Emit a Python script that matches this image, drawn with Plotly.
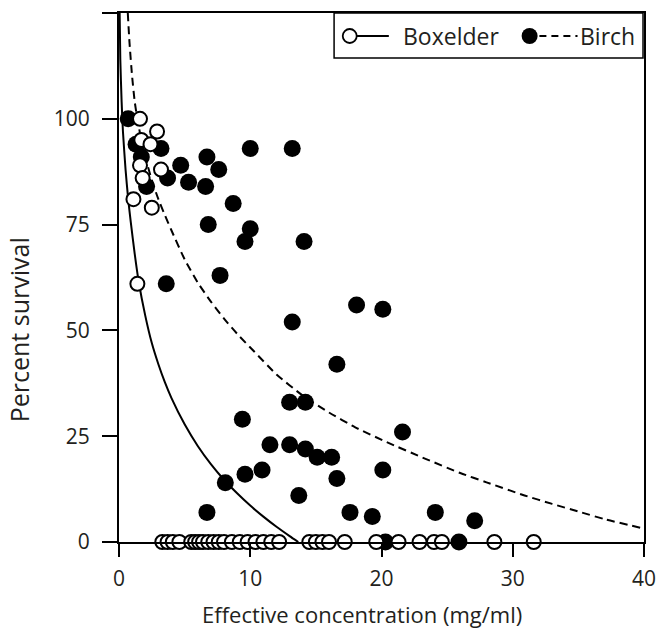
import plotly.graph_objects as go

# Boxelder (open circles)
boxelder_x = [1.6, 2.9, 1.7, 2.4, 1.6, 3.2, 1.8, 1.1, 2.5, 1.4,
              3.3, 3.7, 4.1, 4.6, 5.5, 5.8, 6.1, 6.4, 6.8, 7.2, 7.6, 8.0, 8.6, 9.2, 9.8,
              10.4, 11.0, 11.6, 12.2, 14.5, 15.0, 15.5, 16.0, 17.2, 19.6, 21.3, 22.9,
              24.0, 24.6, 28.6, 31.6]
boxelder_y = [100, 97, 95, 94, 89, 88, 86, 81, 79, 61,
              0, 0, 0, 0, 0, 0, 0, 0, 0, 0, 0, 0, 0, 0, 0,
              0, 0, 0, 0, 0, 0, 0, 0, 0, 0, 0, 0,
              0, 0, 0, 0]

# Birch (filled circles)
birch_x = [0.7, 1.3, 1.7, 2.1, 3.2, 4.7, 6.7, 10.0, 13.2, 7.6, 3.7, 5.3, 6.6, 8.7,
           6.8, 10.0, 9.6, 14.1, 7.7, 3.6, 18.1, 20.1, 13.2, 16.6, 13.0, 14.2,
           9.4, 21.6, 11.5, 13.0, 14.2, 15.1, 16.2, 20.1, 10.9, 9.6, 16.6, 8.1,
           13.7, 17.6, 19.3, 6.7, 24.1, 27.1, 20.3, 25.9]
birch_y = [100, 94, 91, 84, 93, 89, 91, 93, 93, 88, 86, 85, 84, 80,
           75, 74, 71, 71, 63, 61, 56, 55, 52, 42, 33, 33,
           29, 26, 23, 23, 22, 20, 20, 17, 17, 16, 15, 14,
           11, 7, 6, 7, 7, 5, 0, 0]

# Fitted curves
boxelder_fit_x = [0.05, 0.1, 0.2, 0.3, 0.5, 0.7, 0.9, 1.2, 1.5, 2.0, 2.5, 3.0, 3.5, 4.0,
                  5.0, 6.0, 7.0, 8.0, 9.0, 10.0, 11.0, 12.0, 13.0, 13.66]
boxelder_fit_y = [125, 114, 104, 97, 88, 81, 75.5, 68, 61.5, 53.5, 47, 42, 37.7, 34,
                  27.8, 22.7, 18.4, 14.7, 11.5, 8.6, 6.0, 3.6, 1.4, 0]
birch_fit_x = [0.67, 0.8, 1.0, 1.2, 1.4, 1.7, 2.0, 2.5, 3.0, 3.43, 4.0, 5.0, 6.0, 7.0, 8.0,
               9.0, 10.3, 12.0, 14.0, 16.0, 18.0, 20.4, 23.4, 26.0, 28.0, 30.9, 33.0, 35.0,
               37.0, 39.8]
birch_fit_y = [125, 118, 110, 104, 100, 95, 91, 85.5, 81, 77.7, 73.6, 66.8, 61.3, 56.8, 52.8,
               49.2, 45, 39.6, 34.6, 30.6, 27.1, 23.6, 19.6, 16.3, 14.1, 11, 9, 7.2,
               5.4, 3.3]

x_ticks = [0, 10, 20, 30, 40]
y_ticks = [0, 25, 50, 75, 100, 125]
y_ticktext = ["0", "25", "50", "75", "100", ""]
series_names = ["Boxelder", "Birch"]

FONT = "Open Sans"
INK = "#231f20"

# plot area in pixels (for placing paper-referenced decorations)
L, R, T, B = 119, 656, 13, 542
def px(x): return (x - L) / (R - L)
def py(y): return (B - y) / (B - T)

fig = go.Figure()

fig.add_trace(go.Scatter(x=boxelder_fit_x, y=boxelder_fit_y, mode="lines",
                         line=dict(color="black", width=2, shape="spline", smoothing=0.6),
                         showlegend=False, hoverinfo="skip"))
fig.add_trace(go.Scatter(x=birch_fit_x, y=birch_fit_y, mode="lines",
                         line=dict(color="black", width=2, dash="8px,5px",
                                   shape="spline", smoothing=0.6),
                         showlegend=False, hoverinfo="skip"))
fig.add_trace(go.Scatter(x=birch_x, y=birch_y, mode="markers", cliponaxis=False,
                         name=series_names[1],
                         marker=dict(symbol="circle", size=17, color="black",
                                     line=dict(width=0)),
                         showlegend=False))
fig.add_trace(go.Scatter(x=boxelder_x, y=boxelder_y, mode="markers", cliponaxis=False,
                         name=series_names[0],
                         marker=dict(symbol="circle", size=14, color="white",
                                     line=dict(width=2, color="black")),
                         showlegend=False))

# hand-drawn legend box (paper coordinates)
leg_y = py(36)
shapes = [
    dict(type="rect", xref="paper", yref="paper", x0=px(339), x1=px(655),
         y0=py(58), y1=py(13), line=dict(color="black", width=1.5), fillcolor="white",
         layer="above"),
    dict(type="line", xref="paper", yref="paper", x0=px(362), x1=px(395), y0=leg_y, y1=leg_y,
         line=dict(color="black", width=1.8), layer="above"),
    dict(type="circle", xref="paper", yref="paper", xsizemode="pixel", ysizemode="pixel",
         xanchor=px(355), yanchor=leg_y, x0=-7, x1=7, y0=-7, y1=7,
         line=dict(color="black", width=1.8), fillcolor="white", layer="above"),
    dict(type="line", xref="paper", yref="paper", x0=px(549), x1=px(588), y0=leg_y, y1=leg_y,
         line=dict(color="black", width=1.8, dash="7px,5px"), layer="above"),
    dict(type="circle", xref="paper", yref="paper", xsizemode="pixel", ysizemode="pixel",
         xanchor=px(539), yanchor=leg_y, x0=-8, x1=8, y0=-8, y1=8,
         line=dict(color="black", width=0), fillcolor="black", layer="above"),
]

annotations = [
    dict(text="Effective concentration (mg/ml)", xref="paper", yref="paper",
         x=px(368), y=py(614), xanchor="center", yanchor="middle",
         showarrow=False, font=dict(family=FONT, size=22, color=INK)),
    dict(text="Percent survival", xref="paper", yref="paper",
         x=px(17), y=py(330), xanchor="center", yanchor="middle",
         textangle=-90, showarrow=False, font=dict(family=FONT, size=25, color=INK)),
    dict(text=series_names[0], xref="paper", yref="paper", x=px(407), y=leg_y,
         xanchor="left", yanchor="middle", showarrow=False,
         font=dict(family=FONT, size=23, color=INK)),
    dict(text=series_names[1], xref="paper", yref="paper", x=px(589), y=leg_y,
         xanchor="left", yanchor="middle", showarrow=False,
         font=dict(family=FONT, size=23, color=INK)),
]

fig.update_layout(
    width=667, height=632,
    margin=dict(l=L, r=667 - R, t=T, b=632 - B),
    paper_bgcolor="white", plot_bgcolor="white",
    font=dict(family=FONT, size=21, color=INK),
    showlegend=False,
    xaxis=dict(range=[0, 40], tickvals=x_ticks, ticks="outside", ticklen=13,
               tickwidth=2, tickcolor="black", showline=True, linewidth=2,
               linecolor="black", mirror=True, showgrid=False, zeroline=False,
               ticklabelstandoff=4,
               tickfont=dict(family=FONT, size=21, color=INK)),
    yaxis=dict(range=[0, 125], tickvals=y_ticks, ticktext=y_ticktext, ticks="outside",
               ticklen=15, tickwidth=2, tickcolor="black", showline=True, linewidth=2,
               linecolor="black", mirror=True, showgrid=False, zeroline=False,
               ticklabelstandoff=8,
               tickfont=dict(family=FONT, size=21, color=INK)),
    shapes=shapes,
    annotations=annotations,
)

fig.write_html("out.html")
